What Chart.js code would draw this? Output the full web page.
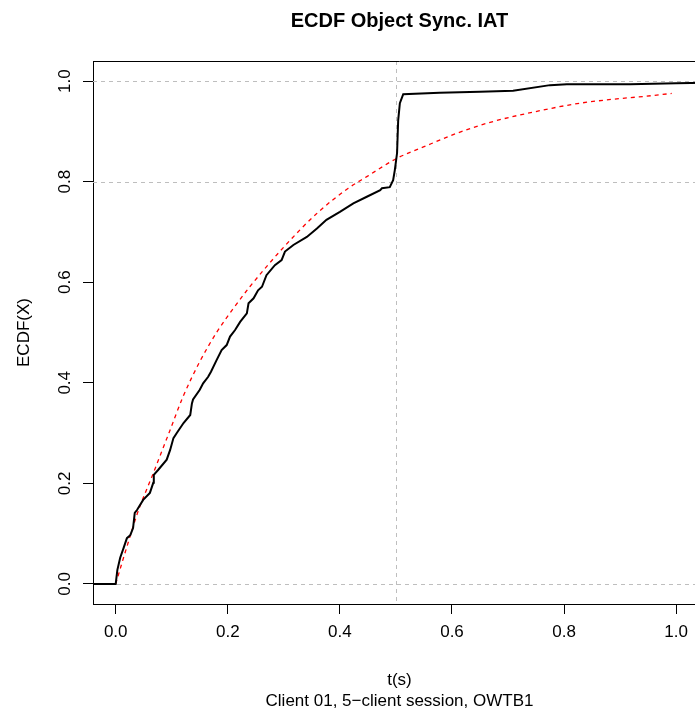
<!DOCTYPE html>
<html>
<head>
<meta charset="utf-8">
<title>ECDF Object Sync. IAT</title>
<script src="https://cdn.jsdelivr.net/npm/chart.js@4/dist/chart.umd.min.js"></script>
<style>
  html, body { margin: 0; padding: 0; background: #fff; overflow: hidden; }
  canvas { display: block; }
</style>
</head>
<body>
<canvas id="ecdfChart" width="720" height="713"></canvas>
<script>
// empirical CDF of the inter-arrival times (seconds -> cumulative share)
const ecdfT = [-0.05, 0, 0.003, 0.008, 0.014, 0.020, 0.026, 0.031, 0.034, 0.038,
  0.049, 0.061, 0.067, 0.068, 0.076, 0.091, 0.097, 0.103, 0.109, 0.121,
  0.133, 0.136, 0.138, 0.150, 0.156, 0.165, 0.170, 0.180, 0.189, 0.198,
  0.204, 0.213, 0.222, 0.234, 0.237, 0.246, 0.254, 0.261, 0.269, 0.284,
  0.296, 0.302, 0.317, 0.341, 0.359, 0.376, 0.400, 0.424, 0.448, 0.472,
  0.475, 0.489, 0.495, 0.498, 0.502, 0.504, 0.507, 0.513, 0.578, 0.650,
  0.709, 0.775, 0.805, 0.918, 1.0, 1.06];
const ecdfP = [0, 0, 0.028, 0.052, 0.071, 0.091, 0.097, 0.111, 0.141, 0.147,
  0.167, 0.181, 0.201, 0.217, 0.227, 0.247, 0.266, 0.290, 0.300, 0.320,
  0.336, 0.359, 0.367, 0.386, 0.399, 0.412, 0.422, 0.445, 0.465, 0.475,
  0.492, 0.505, 0.521, 0.538, 0.558, 0.568, 0.584, 0.591, 0.614, 0.634,
  0.644, 0.661, 0.674, 0.690, 0.707, 0.724, 0.740, 0.757, 0.770, 0.783,
  0.787, 0.789, 0.803, 0.823, 0.857, 0.922, 0.956, 0.974, 0.977, 0.979,
  0.981, 0.992, 0.994, 0.994, 0.9955, 0.997];

// fitted reference CDF (red dashed)
const fitT = [0, 0.011, 0.020, 0.031, 0.043, 0.055, 0.067, 0.082, 0.095, 0.120,
  0.150, 0.180, 0.210, 0.240, 0.300, 0.360, 0.415, 0.448, 0.501, 0.549,
  0.608, 0.668, 0.769, 0.828, 0.888, 0.947, 0.992];
const fitP = [0, 0.041, 0.074, 0.114, 0.154, 0.187, 0.220, 0.263, 0.300, 0.372,
  0.442, 0.500, 0.548, 0.592, 0.670, 0.738, 0.787, 0.810, 0.846, 0.869,
  0.896, 0.918, 0.944, 0.956, 0.964, 0.970, 0.9755];

const xTicks = [0, 0.2, 0.4, 0.6, 0.8, 1.0];
const yTicks = [0, 0.2, 0.4, 0.6, 0.8, 1.0];
const gridX = [0.5];
const gridY = [0, 0.8, 1.0];

const mainTitle = 'ECDF Object Sync. IAT';
const xLabel = 't(s)';
const subLabel = 'Client 01, 5\u2212client session, OWTB1';
const yLabel = 'ECDF(X)';

const FONT = '"Liberation Sans", Arial, Helvetica, sans-serif';

function toPoints(xs, ys) {
  return xs.map((x, i) => ({ x: x, y: ys[i] }));
}

// dashed reference lines, top frame line and the R-style text
const overlay = {
  id: 'overlay',
  beforeDatasetsDraw(chart) {
    const { ctx, chartArea, scales } = chart;
    ctx.save();
    ctx.strokeStyle = '#bebebe';
    ctx.lineWidth = 1;
    ctx.setLineDash([4, 4]);
    gridY.forEach(v => {
      const y = Math.round(scales.y.getPixelForValue(v)) + 0.5;
      ctx.beginPath();
      ctx.moveTo(chartArea.left, y);
      ctx.lineTo(chartArea.right, y);
      ctx.stroke();
    });
    gridX.forEach(v => {
      const x = Math.round(scales.x.getPixelForValue(v)) + 0.5;
      ctx.beginPath();
      ctx.moveTo(x, chartArea.top);
      ctx.lineTo(x, chartArea.bottom);
      ctx.stroke();
    });
    ctx.restore();
  },
  afterDraw(chart) {
    const { ctx, chartArea, scales } = chart;
    const cx = (chartArea.left + chartArea.right) / 2;
    ctx.save();
    // top edge of the box
    ctx.strokeStyle = '#000';
    ctx.lineWidth = 1;
    ctx.beginPath();
    ctx.moveTo(chartArea.left, Math.round(chartArea.top) + 0.5);
    ctx.lineTo(chartArea.right, Math.round(chartArea.top) + 0.5);
    ctx.stroke();

    ctx.fillStyle = '#000';
    ctx.textAlign = 'center';
    ctx.textBaseline = 'alphabetic';
    ctx.font = 'bold 20px ' + FONT;
    ctx.fillText(mainTitle, cx, 27);

    ctx.font = '17px ' + FONT;
    ctx.fillText(xLabel, cx, 685);
    ctx.fillText(subLabel, cx, 706);

    // vertical tick labels on the y axis
    yTicks.forEach(v => {
      ctx.save();
      ctx.translate(70, scales.y.getPixelForValue(v));
      ctx.rotate(-Math.PI / 2);
      ctx.fillText(v.toFixed(1), 0, 0);
      ctx.restore();
    });

    ctx.save();
    ctx.translate(29, (chartArea.top + chartArea.bottom) / 2);
    ctx.rotate(-Math.PI / 2);
    ctx.fillText(yLabel, 0, 0);
    ctx.restore();
    ctx.restore();
  }
};

const chart = new Chart(document.getElementById('ecdfChart').getContext('2d'), {
  type: 'line',
  data: {
    datasets: [
      {
        label: 'ECDF',
        data: toPoints(ecdfT, ecdfP),
        borderColor: '#000',
        borderWidth: 2,
        pointRadius: 0,
        tension: 0,
        fill: false
      },
      {
        label: 'Fit',
        data: toPoints(fitT, fitP),
        borderColor: '#ff0000',
        borderWidth: 1.3,
        borderDash: [4, 4],
        pointRadius: 0,
        cubicInterpolationMode: 'monotone',
        fill: false
      }
    ]
  },
  options: {
    responsive: false,
    devicePixelRatio: 1,
    animation: false,
    layout: { padding: { top: 61, right: 14, left: 0, bottom: 0 } },
    plugins: {
      legend: { display: false },
      tooltip: { enabled: false },
      title: { display: false }
    },
    scales: {
      x: {
        type: 'linear',
        min: -0.0405,
        max: 1.0532,
        afterBuildTicks: scale => { scale.ticks = xTicks.map(v => ({ value: v })); },
        afterFit: scale => { scale.height = 109; },
        border: { display: true, color: '#000', width: 1 },
        grid: { drawOnChartArea: false, drawTicks: true, tickLength: 10, tickColor: '#000' },
        ticks: {
          color: '#000',
          padding: 8,
          maxRotation: 0,
          font: { family: FONT, size: 17 },
          callback: v => Number(v).toFixed(1)
        }
      },
      y: {
        type: 'linear',
        min: -0.04,
        max: 1.04,
        afterBuildTicks: scale => { scale.ticks = yTicks.map(v => ({ value: v })); },
        afterFit: scale => { scale.width = 93; },
        border: { display: true, color: '#000', width: 1 },
        grid: { drawOnChartArea: false, drawTicks: true, tickLength: 10, tickColor: '#000' },
        ticks: { display: false }
      }
    }
  },
  plugins: [overlay]
});
</script>
</body>
</html>
